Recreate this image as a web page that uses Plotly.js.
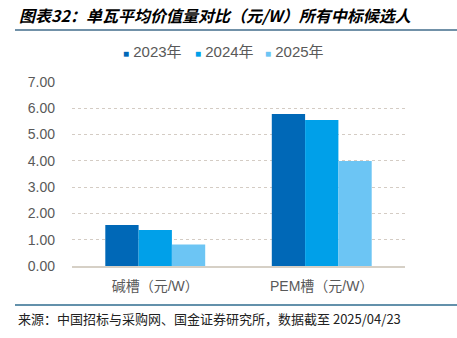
<!DOCTYPE html>
<html>
<head>
<meta charset="utf-8">
<script src="https://cdn.plot.ly/plotly-3.0.1.min.js"></script>
<style>html,body{margin:0;padding:0;background:#fff;}#chart{width:457px;height:338px;}</style>
</head>
<body>
<div id="chart"></div>
<script>
const categories = ["碱槽（元/W）", "PEM槽（元/W）"];
const seriesNames = ["2023年", "2024年", "2025年"];
const values2023 = [1.56, 5.78];
const values2024 = [1.37, 5.55];
const values2025 = [0.82, 3.99];
const yTicks = [0, 1, 2, 3, 4, 5, 6, 7];
const titleText = "图表32：单瓦平均价值量对比（元/W）所有中标候选人";
const sourceText = "来源：中国招标与采购网、国金证券研究所，数据截至 2025/04/23";

const colors = ["#0068b7", "#00a0e9", "#6cc5f4"];
const allValues = [values2023, values2024, values2025];

const W = 457, H = 338;
const L = 72, R = 52, T = 82, B = 72;
const pw = W - L - R, ph = H - T - B;
const px = x => (x - L) / pw;
const py = y => (H - B - y) / ph;

const FONT = "Liberation Sans, Arial, Noto Sans CJK SC, sans-serif";
const gray = "#595959";

const traces = seriesNames.map((n, i) => ({
  type: "bar",
  name: n,
  x: categories,
  y: allValues[i],
  marker: {color: colors[i], line: {width: 0}},
  showlegend: false,
  hoverinfo: "none"
}));

const legendX = [122, 194, 264];
const annotations = [
  {text: titleText, xref: "paper", yref: "paper", x: px(17), y: py(15), xanchor: "left", yanchor: "middle",
   showarrow: false, font: {family: "Noto Sans CJK SC, sans-serif", size: 16, color: "#000", weight: "bold", style: "italic"}},
  {text: sourceText, xref: "paper", yref: "paper", x: px(16), y: py(318), xanchor: "left", yanchor: "middle",
   showarrow: false, font: {family: "Noto Sans CJK SC, Liberation Sans, sans-serif", size: 13, color: "#222"}}
];
seriesNames.forEach((n, i) => {
  annotations.push({
    text: '<span style="color:' + colors[i] + ';font-size:10px">■</span> ' + n,
    xref: "paper", yref: "paper", x: px(legendX[i] - 1), y: py(52), xanchor: "left", yanchor: "middle",
    showarrow: false, font: {family: FONT, size: 15, color: gray}
  });
});

const layout = {
  width: W, height: H,
  margin: {l: L, r: R, t: T, b: B, pad: 0},
  paper_bgcolor: "#fff", plot_bgcolor: "#fff",
  barmode: "group", bargap: 0.4, bargroupgap: 0,
  showlegend: false,
  xaxis: {
    type: "category", showgrid: false, zeroline: false,
    showline: true, linecolor: "#d6d0c6", linewidth: 2,
    ticks: "", tickfont: {family: FONT, size: 14, color: gray}, ticklabelstandoff: 6
  },
  yaxis: {
    range: [0, 7], tickvals: yTicks, ticktext: yTicks.map(v => v.toFixed(2)),
    showgrid: true, gridcolor: "#d4ccc4", griddash: "dot", gridwidth: 1,
    zeroline: false, showline: false, ticks: "",
    tickfont: {family: FONT, size: 14, color: gray}, ticklabelstandoff: 16
  },
  shapes: [
    {type: "line", xref: "paper", yref: "paper", x0: px(15), x1: px(457), y0: py(30), y1: py(30),
     line: {color: "#7191a8", width: 2}},
    {type: "line", xref: "paper", yref: "paper", x0: px(15), x1: px(457), y0: py(305), y1: py(305),
     line: {color: "#2f6d8f", width: 1.5}}
  ],
  annotations: annotations
};

Plotly.newPlot("chart", traces, layout, {staticPlot: true, displayModeBar: false});
</script>
</body>
</html>
